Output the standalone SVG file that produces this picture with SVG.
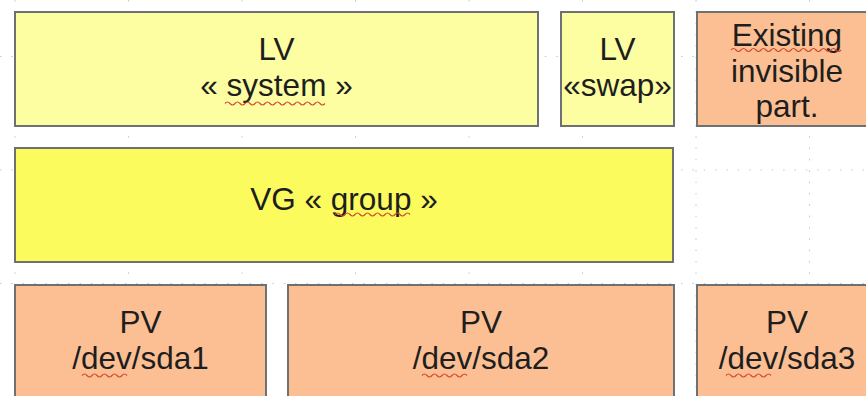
<svg xmlns="http://www.w3.org/2000/svg" width="866" height="396" viewBox="0 0 866 396">
  <style>
    .box { stroke: #6d7171; stroke-width: 2; }
    .lv { fill: #fdfda2; }
    .vg { fill: #fbfb5e; }
    .pv { fill: #fcbf93; }
    .lbl { font-family: "Liberation Sans", Arial, sans-serif; font-size: 31.5px; fill: #1e1e1e; text-anchor: middle; }
    .grid { stroke: #c2c6ca; stroke-width: 1; stroke-dasharray: 1.5 9.85; fill: none; }
    .sq { stroke: #d4482c; stroke-width: 1.2; fill: none; }
  </style>
  <rect x="0" y="0" width="866" height="396" fill="#ffffff"/>
  <g id="grid">
    <path class="grid" d="M15 0V396M128.5 0V396M242 0V396M355.5 0V396M469 0V396M582.5 0V396M696 0V396M809.5 0V396"/>
    <path class="grid" d="M0 56.5H866M0 170H866M0 283.5H866"/>
  </g>
  <g id="connectors"></g>
  <g id="lv-system">
    <rect class="box lv" x="15" y="12" width="523" height="114"/>
    <text class="lbl" x="276.5" y="60">LV</text>
    <text class="lbl" x="276.5" y="96">« system »</text>
    <path class="sq" d="M225 103.5q2.5 -3 5 0t5 0t5 0t5 0t5 0t5 0t5 0t5 0t5 0t5 0t5 0t5 0t5 0t5 0t5 0t5 0t5 0t5 0t5 0t5 0"/>
  </g>
  <g id="lv-swap">
    <rect class="box lv" x="561" y="12" width="113" height="114"/>
    <text class="lbl" x="617.5" y="60">LV</text>
    <text class="lbl" x="617.5" y="96">«swap»</text>
  </g>
  <g id="existing">
    <rect class="box pv" x="697" y="12" width="180" height="114"/>
    <text class="lbl" x="787" y="46">Existing</text>
    <text class="lbl" x="787" y="81.5">invisible</text>
    <text class="lbl" x="787" y="117">part.</text>
    <path class="sq" d="M731 50q2.5 -3 5 0t5 0t5 0t5 0t5 0t5 0t5 0t5 0t5 0t5 0t5 0t5 0t5 0t5 0t5 0t5 0t5 0t5 0t5 0t5 0t5 0t5 0"/>
  </g>
  <g id="vg-group">
    <rect class="box vg" x="15" y="148" width="658" height="114"/>
    <text class="lbl" x="344" y="210">VG « group »</text>
    <path class="sq" d="M335 214.5q2.5 -3 5 0t5 0t5 0t5 0t5 0t5 0t5 0t5 0t5 0t5 0t5 0t5 0t5 0t5 0t5 0"/>
  </g>
  <g id="pv-sda1">
    <rect class="box pv" x="15" y="285" width="251" height="114"/>
    <text class="lbl" x="140.5" y="333">PV</text>
    <text class="lbl" x="140.5" y="369">/dev/sda1</text>
    <path class="sq" d="M82 375.5q2.5 -3 5 0t5 0t5 0t5 0t5 0t5 0t5 0t5 0t5 0"/>
  </g>
  <g id="pv-sda2">
    <rect class="box pv" x="288" y="285" width="386" height="114"/>
    <text class="lbl" x="481" y="333">PV</text>
    <text class="lbl" x="481" y="369">/dev/sda2</text>
    <path class="sq" d="M422 375.5q2.5 -3 5 0t5 0t5 0t5 0t5 0t5 0t5 0t5 0t5 0"/>
  </g>
  <g id="pv-sda3">
    <rect class="box pv" x="697" y="285" width="180" height="114"/>
    <text class="lbl" x="787" y="333">PV</text>
    <text class="lbl" x="787" y="369">/dev/sda3</text>
    <path class="sq" d="M726 375.5q2.5 -3 5 0t5 0t5 0t5 0t5 0t5 0t5 0t5 0t5 0"/>
  </g>
</svg>
